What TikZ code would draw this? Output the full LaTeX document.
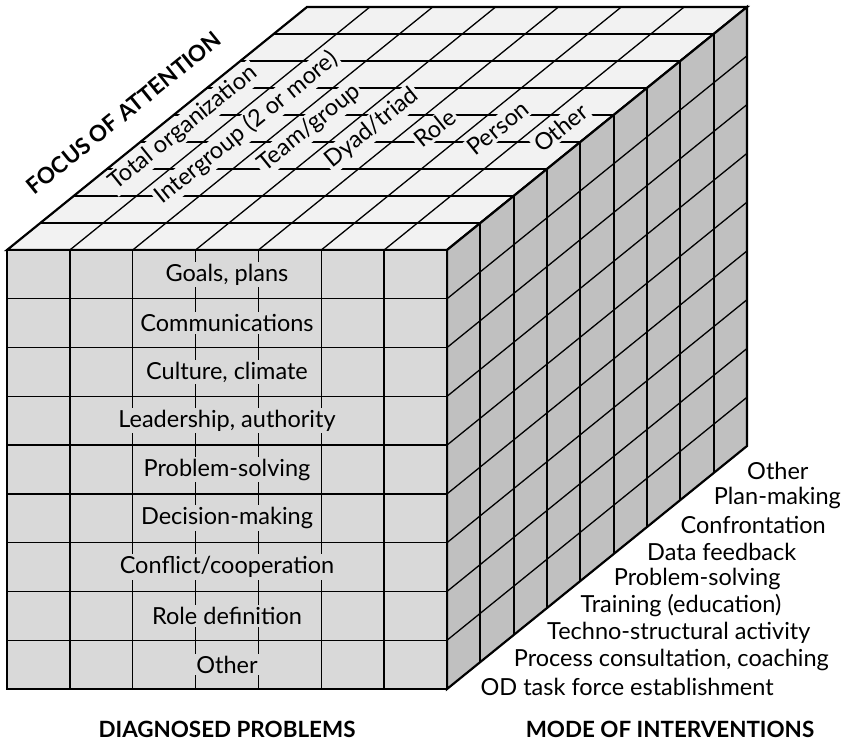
\documentclass[tikz,border=0pt]{standalone}
\usepackage{fontspec}
\setmainfont{Lato}
\begin{document}
\begin{tikzpicture}[x=1pt,y=-1pt,
  outer/.style={line width=2.2pt,line join=miter},
  inner/.style={line width=1.3pt},
  innerv/.style={line width=2pt},
  lbl/.style={font=\fontsize{23.5}{26}\selectfont,inner sep=2pt},
  flbl/.style={lbl,fill=frontc},
  tlbl/.style={lbl,fill=topc,rotate=39},
  rlbl/.style={lbl,anchor=west,inner sep=0pt},
  head/.style={font=\fontsize{22.4}{26}\selectfont\bfseries,inner sep=0pt}]
\definecolor{topc}{HTML}{F2F2F2}
\definecolor{frontc}{HTML}{D9D9D9}
\definecolor{rightc}{HTML}{C0C0C0}
\def\cw{62.857}
\def\rh{48.78}
\def\dx{33.333}
\def\dy{27}
\useasboundingbox (0,0) rectangle (849,741);
% ---------- top face ----------
\fill[topc] (7,250) -- (447,250) -- (747,7) -- (307,7) -- cycle;
\foreach \k in {1,...,8}
  \draw[inner] ({7+\dx*\k},{250-\dy*\k}) -- ({447+\dx*\k},{250-\dy*\k});
\foreach \t [count=\j from 0] in {Total organization,Intergroup (2 or more),Team/group,Dyad/triad,Role,Person,Other}
  \node[tlbl] (f\j) at ({7+\cw*(\j+0.5)+145},128) {\t};
\foreach \j in {1,...,6}
  \draw[inner] ({7+\cw*\j},250) -- ({307+\cw*\j},7);
\draw[outer] (7,250) -- (447,250) -- (747,7) -- (307,7) -- cycle;
% ---------- right face ----------
\fill[rightc] (447,250) -- (747,7) -- (747,446) -- (447,689) -- cycle;
\foreach \i in {1,...,8}
  \draw[inner] (447,{250+\rh*\i}) -- (747,{7+\rh*\i});
\foreach \k in {1,...,8}
  \draw[innerv] ({447+\dx*\k},{250-\dy*\k}) -- ({447+\dx*\k},{689-\dy*\k});
\draw[outer] (447,250) -- (747,7) -- (747,446) -- (447,689) -- cycle;
% ---------- front face ----------
\fill[frontc] (7,250) rectangle (447,689);
\foreach \j in {1,...,6}
  \draw[inner] ({7+\cw*\j},250) -- ({7+\cw*\j},689);
\foreach \t [count=\i] in {Goals{,} plans,Communications,Culture{,} climate,Leadership{,} authority,Problem-solving,Decision-making,Conflict/cooperation,Role definition,Other}
  \node[flbl] (d\i) at (227,{250+\rh*(\i-0.5)}) {\t};
\foreach \i in {1,...,8}
  \draw[inner] (7,{250+\rh*\i}) -- (447,{250+\rh*\i});
\draw[outer] (7,250) rectangle (447,689);
% ---------- mode labels ----------
\foreach \t [count=\i from 0] in {OD task force establishment,Process consultation{,} coaching,Techno-structural activity,Training (education),Problem-solving,Data feedback,Confrontation,Plan-making,Other}
  \node[rlbl] (m\i) at ({447+\dx*(\i+1)},{687-\dy*\i}) {\t};
% ---------- headings ----------
\node[head,rotate=39] (foa) at (124,113) {FOCUS OF ATTENTION};
\node[head] (dp) at (227,729) {DIAGNOSED PROBLEMS};
\node[head] (moi) at (670,729) {MODE OF INTERVENTIONS};
\end{tikzpicture}
\end{document}
